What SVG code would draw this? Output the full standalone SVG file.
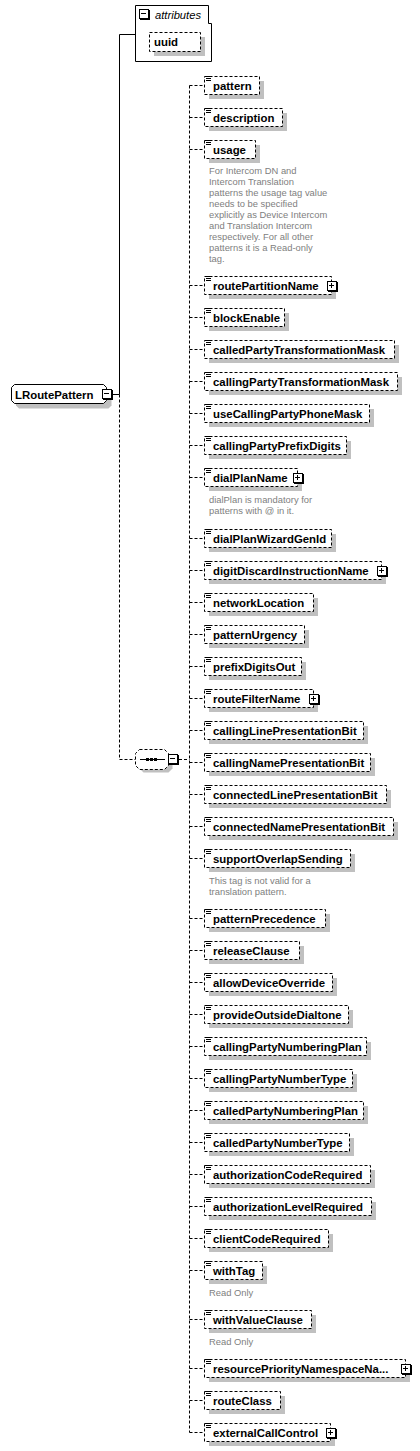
<svg xmlns="http://www.w3.org/2000/svg" xmlns:xlink="http://www.w3.org/1999/xlink" width="420" height="1451" viewBox="0 0 420 1451">
<style>
.bx{fill:#fff;stroke:#000;stroke-dasharray:3 2}
.sh{fill:#c0c0c0}
.lb{font-family:"Liberation Sans",Arial,sans-serif;font-weight:bold;font-size:11.4px;fill:#000}
.an{font-family:"Liberation Sans",Arial,sans-serif;font-size:9.4px;fill:#808080}
.it{font-family:"Liberation Sans",Arial,sans-serif;font-style:italic;font-size:11.2px;fill:#000}
.cn{fill:none;stroke:#000;stroke-dasharray:3 2}
.sl{fill:none;stroke:#000}
</style>
<defs>
<g id="plus"><rect x="1" y="1" width="10" height="10" fill="#000"/><rect x="0.5" y="0.5" width="9" height="9" fill="#fff" stroke="#000"/><path d="M2 4.5H7M4.5 2V7" stroke="#000"/></g>
<g id="minus"><rect x="1" y="1" width="10" height="10" fill="#000"/><rect x="0.5" y="0.5" width="9" height="9" fill="#fff" stroke="#000"/><path d="M2 4.5H7" stroke="#000"/></g>
<g id="eq"><path d="M2 0.5H7M2 2.5H7M2 4.5H7" stroke="#000"/></g>
</defs>

<g id="connectors">
<path class="sl" d="M113 394.5H119.5M119.5 34.5V394.5M119.5 34.5H135.5"/>
<path class="cn" d="M119.5 394.5V759.5H135.5M179 759.5H189.5M189.5 85.5V1432.5"/>
<path class="cn" d="M189.5 85.5H204.5M189.5 117.5H204.5M189.5 149.5H204.5M189.5 285.5H204.5M189.5 317.5H204.5M189.5 349.5H204.5M189.5 381.5H204.5M189.5 413.5H204.5M189.5 445.5H204.5M189.5 477.5H204.5M189.5 538.5H204.5M189.5 570.5H204.5M189.5 602.5H204.5M189.5 634.5H204.5M189.5 666.5H204.5M189.5 698.5H204.5M189.5 730.5H204.5M189.5 762.5H204.5M189.5 794.5H204.5M189.5 826.5H204.5M189.5 858.5H204.5M189.5 918.5H204.5M189.5 950.5H204.5M189.5 982.5H204.5M189.5 1014.5H204.5M189.5 1046.5H204.5M189.5 1078.5H204.5M189.5 1110.5H204.5M189.5 1142.5H204.5M189.5 1174.5H204.5M189.5 1206.5H204.5M189.5 1238.5H204.5M189.5 1270.5H204.5M189.5 1319.5H204.5M189.5 1368.5H204.5M189.5 1400.5H204.5M189.5 1432.5H204.5"/>
</g>

<g id="n-LRoutePattern">
<path class="sh" d="M19 389.5H108.5L111.5 392.5V405.5L108.5 408.5H19L16 405.5V392.5Z"/>
<path d="M14.5 384.5H103.5L106.5 387.5V400.5L103.5 403.5H14.5L11.5 400.5V387.5Z" fill="#fff" stroke="#000"/>
<text class="lb" x="15" y="398.5">LRoutePattern</text>
<use xlink:href="#minus" x="102" y="389"/>
</g>

<g id="n-attributes">
<path d="M135.5 5.5H208.5V23.5H211.5V61.5H135.5Z" fill="#fff" stroke="#000"/>
<use xlink:href="#minus" x="139" y="9"/>
<text class="it" x="155" y="18.5">attributes</text>
</g>
<g id="n-uuid">
<rect class="sh" x="154" y="37" width="51" height="19"/>
<rect class="bx" x="149.5" y="32.5" width="51" height="19"/>
<text class="lb" x="154" y="46">uuid</text>
</g>

<g id="n-sequence">
<path class="sh" d="M143.5 753.5H168.5L172.5 757.5V768.5L168.5 772.5H143.5L139.5 768.5V757.5Z"/>
<path class="bx" d="M139.5 749.5H164.5L168.5 753.5V765.5L164.5 769.5H139.5L135.5 765.5V753.5Z"/>
<path d="M140 759.5H165" stroke="#000"/>
<path d="M146 759.5H157" stroke="#000" stroke-width="3" stroke-dasharray="3 1"/>
<use xlink:href="#minus" x="168" y="754"/>
</g>

<g id="n-pattern"><rect class="sh" x="209" y="81" width="55" height="18"/><rect class="bx" x="204.5" y="76.5" width="55" height="18"/><use xlink:href="#eq" x="204" y="76"/><text class="lb" x="213" y="89.5">pattern</text></g>
<g id="n-description"><rect class="sh" x="209" y="113" width="78" height="18"/><rect class="bx" x="204.5" y="108.5" width="78" height="18"/><use xlink:href="#eq" x="204" y="108"/><text class="lb" x="213" y="121.5">description</text></g>
<g id="n-usage"><rect class="sh" x="209" y="145" width="51" height="18"/><rect class="bx" x="204.5" y="140.5" width="51" height="18"/><use xlink:href="#eq" x="204" y="140"/><text class="lb" x="213" y="153.5">usage</text>
<text class="an" x="209" y="173.5"><tspan x="209">For Intercom DN and</tspan><tspan x="209" dy="11">Intercom Translation</tspan><tspan x="209" dy="11">patterns the usage tag value</tspan><tspan x="209" dy="11">needs to be specified</tspan><tspan x="209" dy="11">explicitly as Device Intercom</tspan><tspan x="209" dy="11">and Translation Intercom</tspan><tspan x="209" dy="11">respectively. For all other</tspan><tspan x="209" dy="11">patterns it is a Read-only</tspan><tspan x="209" dy="11">tag.</tspan></text></g>
<g id="n-routePartitionName"><rect class="sh" x="209" y="281" width="127" height="18"/><rect class="bx" x="204.5" y="276.5" width="127" height="18"/><use xlink:href="#eq" x="204" y="276"/><text class="lb" x="213" y="289.5">routePartitionName</text><use xlink:href="#plus" x="327" y="281"/></g>
<g id="n-blockEnable"><rect class="sh" x="209" y="313" width="80" height="18"/><rect class="bx" x="204.5" y="308.5" width="80" height="18"/><use xlink:href="#eq" x="204" y="308"/><text class="lb" x="213" y="321.5">blockEnable</text></g>
<g id="n-calledPartyTransformationMask"><rect class="sh" x="209" y="345" width="190" height="18"/><rect class="bx" x="204.5" y="340.5" width="190" height="18"/><use xlink:href="#eq" x="204" y="340"/><text class="lb" x="213" y="353.5">calledPartyTransformationMask</text></g>
<g id="n-callingPartyTransformationMask"><rect class="sh" x="209" y="377" width="193" height="18"/><rect class="bx" x="204.5" y="372.5" width="193" height="18"/><use xlink:href="#eq" x="204" y="372"/><text class="lb" x="213" y="385.5">callingPartyTransformationMask</text></g>
<g id="n-useCallingPartyPhoneMask"><rect class="sh" x="209" y="409" width="165" height="18"/><rect class="bx" x="204.5" y="404.5" width="165" height="18"/><use xlink:href="#eq" x="204" y="404"/><text class="lb" x="213" y="417.5">useCallingPartyPhoneMask</text></g>
<g id="n-callingPartyPrefixDigits"><rect class="sh" x="209" y="441" width="142" height="18"/><rect class="bx" x="204.5" y="436.5" width="142" height="18"/><use xlink:href="#eq" x="204" y="436"/><text class="lb" x="213" y="449.5">callingPartyPrefixDigits</text></g>
<g id="n-dialPlanName"><rect class="sh" x="209" y="473" width="93" height="18"/><rect class="bx" x="204.5" y="468.5" width="93" height="18"/><use xlink:href="#eq" x="204" y="468"/><text class="lb" x="213" y="481.5">dialPlanName</text><use xlink:href="#plus" x="293" y="473"/>
<text class="an" x="209" y="502.5"><tspan x="209">dialPlan is mandatory for</tspan><tspan x="209" dy="11">patterns with @ in it.</tspan></text></g>
<g id="n-dialPlanWizardGenId"><rect class="sh" x="209" y="534" width="127" height="18"/><rect class="bx" x="204.5" y="529.5" width="127" height="18"/><use xlink:href="#eq" x="204" y="529"/><text class="lb" x="213" y="542.5">dialPlanWizardGenId</text></g>
<g id="n-digitDiscardInstructionName"><rect class="sh" x="209" y="566" width="177" height="18"/><rect class="bx" x="204.5" y="561.5" width="177" height="18"/><use xlink:href="#eq" x="204" y="561"/><text class="lb" x="213" y="574.5">digitDiscardInstructionName</text><use xlink:href="#plus" x="377" y="566"/></g>
<g id="n-networkLocation"><rect class="sh" x="209" y="598" width="109" height="18"/><rect class="bx" x="204.5" y="593.5" width="109" height="18"/><use xlink:href="#eq" x="204" y="593"/><text class="lb" x="213" y="606.5">networkLocation</text></g>
<g id="n-patternUrgency"><rect class="sh" x="209" y="630" width="100" height="18"/><rect class="bx" x="204.5" y="625.5" width="100" height="18"/><use xlink:href="#eq" x="204" y="625"/><text class="lb" x="213" y="638.5">patternUrgency</text></g>
<g id="n-prefixDigitsOut"><rect class="sh" x="209" y="662" width="97" height="18"/><rect class="bx" x="204.5" y="657.5" width="97" height="18"/><use xlink:href="#eq" x="204" y="657"/><text class="lb" x="213" y="670.5">prefixDigitsOut</text></g>
<g id="n-routeFilterName"><rect class="sh" x="209" y="694" width="109" height="18"/><rect class="bx" x="204.5" y="689.5" width="109" height="18"/><use xlink:href="#eq" x="204" y="689"/><text class="lb" x="213" y="702.5">routeFilterName</text><use xlink:href="#plus" x="309" y="694"/></g>
<g id="n-callingLinePresentationBit"><rect class="sh" x="209" y="726" width="159" height="18"/><rect class="bx" x="204.5" y="721.5" width="159" height="18"/><use xlink:href="#eq" x="204" y="721"/><text class="lb" x="213" y="734.5">callingLinePresentationBit</text></g>
<g id="n-callingNamePresentationBit"><rect class="sh" x="209" y="758" width="166" height="18"/><rect class="bx" x="204.5" y="753.5" width="166" height="18"/><use xlink:href="#eq" x="204" y="753"/><text class="lb" x="213" y="766.5">callingNamePresentationBit</text></g>
<g id="n-connectedLinePresentationBit"><rect class="sh" x="209" y="790" width="182" height="18"/><rect class="bx" x="204.5" y="785.5" width="182" height="18"/><use xlink:href="#eq" x="204" y="785"/><text class="lb" x="213" y="798.5">connectedLinePresentationBit</text></g>
<g id="n-connectedNamePresentationBit"><rect class="sh" x="209" y="822" width="189" height="18"/><rect class="bx" x="204.5" y="817.5" width="189" height="18"/><use xlink:href="#eq" x="204" y="817"/><text class="lb" x="213" y="830.5">connectedNamePresentationBit</text></g>
<g id="n-supportOverlapSending"><rect class="sh" x="209" y="854" width="146" height="18"/><rect class="bx" x="204.5" y="849.5" width="146" height="18"/><use xlink:href="#eq" x="204" y="849"/><text class="lb" x="213" y="862.5">supportOverlapSending</text>
<text class="an" x="209" y="883.5"><tspan x="209">This tag is not valid for a</tspan><tspan x="209" dy="11">translation pattern.</tspan></text></g>
<g id="n-patternPrecedence"><rect class="sh" x="209" y="914" width="121" height="18"/><rect class="bx" x="204.5" y="909.5" width="121" height="18"/><use xlink:href="#eq" x="204" y="909"/><text class="lb" x="213" y="922.5">patternPrecedence</text></g>
<g id="n-releaseClause"><rect class="sh" x="209" y="946" width="95" height="18"/><rect class="bx" x="204.5" y="941.5" width="95" height="18"/><use xlink:href="#eq" x="204" y="941"/><text class="lb" x="213" y="954.5">releaseClause</text></g>
<g id="n-allowDeviceOverride"><rect class="sh" x="209" y="978" width="128" height="18"/><rect class="bx" x="204.5" y="973.5" width="128" height="18"/><use xlink:href="#eq" x="204" y="973"/><text class="lb" x="213" y="986.5">allowDeviceOverride</text></g>
<g id="n-provideOutsideDialtone"><rect class="sh" x="209" y="1010" width="144" height="18"/><rect class="bx" x="204.5" y="1005.5" width="144" height="18"/><use xlink:href="#eq" x="204" y="1005"/><text class="lb" x="213" y="1018.5">provideOutsideDialtone</text></g>
<g id="n-callingPartyNumberingPlan"><rect class="sh" x="209" y="1042" width="162" height="18"/><rect class="bx" x="204.5" y="1037.5" width="162" height="18"/><use xlink:href="#eq" x="204" y="1037"/><text class="lb" x="213" y="1050.5">callingPartyNumberingPlan</text></g>
<g id="n-callingPartyNumberType"><rect class="sh" x="209" y="1074" width="148" height="18"/><rect class="bx" x="204.5" y="1069.5" width="148" height="18"/><use xlink:href="#eq" x="204" y="1069"/><text class="lb" x="213" y="1082.5">callingPartyNumberType</text></g>
<g id="n-calledPartyNumberingPlan"><rect class="sh" x="209" y="1106" width="159" height="18"/><rect class="bx" x="204.5" y="1101.5" width="159" height="18"/><use xlink:href="#eq" x="204" y="1101"/><text class="lb" x="213" y="1114.5">calledPartyNumberingPlan</text></g>
<g id="n-calledPartyNumberType"><rect class="sh" x="209" y="1138" width="145" height="18"/><rect class="bx" x="204.5" y="1133.5" width="145" height="18"/><use xlink:href="#eq" x="204" y="1133"/><text class="lb" x="213" y="1146.5">calledPartyNumberType</text></g>
<g id="n-authorizationCodeRequired"><rect class="sh" x="209" y="1170" width="166" height="18"/><rect class="bx" x="204.5" y="1165.5" width="166" height="18"/><use xlink:href="#eq" x="204" y="1165"/><text class="lb" x="213" y="1178.5">authorizationCodeRequired</text></g>
<g id="n-authorizationLevelRequired"><rect class="sh" x="209" y="1202" width="167" height="18"/><rect class="bx" x="204.5" y="1197.5" width="167" height="18"/><use xlink:href="#eq" x="204" y="1197"/><text class="lb" x="213" y="1210.5">authorizationLevelRequired</text></g>
<g id="n-clientCodeRequired"><rect class="sh" x="209" y="1234" width="124" height="18"/><rect class="bx" x="204.5" y="1229.5" width="124" height="18"/><use xlink:href="#eq" x="204" y="1229"/><text class="lb" x="213" y="1242.5">clientCodeRequired</text></g>
<g id="n-withTag"><rect class="sh" x="209" y="1266" width="58" height="18"/><rect class="bx" x="204.5" y="1261.5" width="58" height="18"/><use xlink:href="#eq" x="204" y="1261"/><text class="lb" x="213" y="1274.5">withTag</text>
<text class="an" x="209" y="1295.5">Read Only</text></g>
<g id="n-withValueClause"><rect class="sh" x="209" y="1315" width="107" height="18"/><rect class="bx" x="204.5" y="1310.5" width="107" height="18"/><use xlink:href="#eq" x="204" y="1310"/><text class="lb" x="213" y="1323.5">withValueClause</text>
<text class="an" x="209" y="1344.5">Read Only</text></g>
<g id="n-resourcePriorityNamespaceName"><rect class="sh" x="209" y="1364" width="201" height="18"/><rect class="bx" x="204.5" y="1359.5" width="201" height="18"/><use xlink:href="#eq" x="204" y="1359"/><text class="lb" x="213" y="1372.5">resourcePriorityNamespaceNa...</text><use xlink:href="#plus" x="401" y="1364"/></g>
<g id="n-routeClass"><rect class="sh" x="209" y="1396" width="76" height="18"/><rect class="bx" x="204.5" y="1391.5" width="76" height="18"/><use xlink:href="#eq" x="204" y="1391"/><text class="lb" x="213" y="1404.5">routeClass</text></g>
<g id="n-externalCallControl"><rect class="sh" x="209" y="1428" width="126" height="18"/><rect class="bx" x="204.5" y="1423.5" width="126" height="18"/><use xlink:href="#eq" x="204" y="1423"/><text class="lb" x="213" y="1436.5">externalCallControl</text><use xlink:href="#plus" x="326" y="1428"/></g>
</svg>
